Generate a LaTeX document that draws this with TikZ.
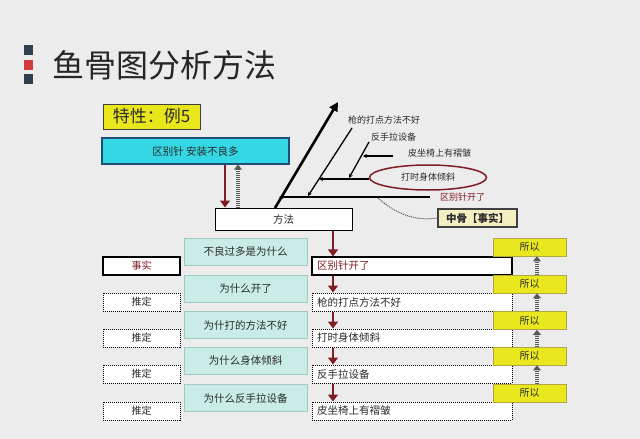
\documentclass[tikz,border=0pt]{standalone}
\usepackage{fontspec}
\setmainfont{Noto Sans CJK SC}
\usetikzlibrary{arrows.meta,shapes.geometric}
\definecolor{bgc}{HTML}{ECECEC}
\definecolor{navy}{HTML}{2F3F4F}
\definecolor{redsq}{HTML}{D43B3B}
\definecolor{featy}{HTML}{EAE61C}
\definecolor{cyanf}{HTML}{34D7E4}
\definecolor{cyanb}{HTML}{1F4E78}
\definecolor{tealf}{HTML}{C9ECE6}
\definecolor{tealb}{HTML}{A3C9C3}
\definecolor{soy}{HTML}{E9E81E}
\definecolor{sob}{HTML}{B3A542}
\definecolor{lyel}{HTML}{F3EFC2}
\definecolor{dred}{HTML}{801C24}
\definecolor{txt}{HTML}{2A2A2A}
\tikzset{
  f/.style={font=\fontsize{#1}{#1}\selectfont},
  lbl/.style={f=9, inner sep=0pt, anchor=west, text=txt},
  tealbox/.style={rectangle, fill=tealf, draw=tealb, line width=0.8pt, minimum width=123pt, minimum height=27pt, f=10.5, text=txt},
  factbox/.style={rectangle, draw=black, fill=white, line width=1.2pt, minimum width=77pt, minimum height=18pt, f=10, text=dred},
  guessbox/.style={rectangle, draw=black, densely dotted, line width=1pt, fill=white, minimum width=77pt, minimum height=18pt, f=10, text=txt},
  rfact/.style={rectangle, draw=black, fill=white, line width=1.2pt, text width=190pt, inner xsep=5pt, align=left, minimum height=18pt, f=10.5, text=dred},
  rguess/.style={rectangle, draw=black, densely dotted, line width=1pt, fill=white, text width=190pt, inner xsep=5pt, align=left, minimum height=18pt, f=10.5, text=txt},
  sobox/.style={rectangle, fill=soy, draw=sob, line width=0.8pt, minimum width=73pt, minimum height=18pt, f=10, text=txt},
  redarrow/.style={draw=dred, line width=2.6pt, -{Triangle[width=10pt,length=7pt]}},
  stripe/.style={draw=black!65, line width=4.5pt, dash pattern=on 1pt off 1pt, -{Triangle[width=8pt,length=5pt]}},
  bone/.style={draw=black, line width=1.3pt, -{Stealth[length=4pt,width=4pt]}},
}
\begin{document}
\begin{tikzpicture}[x=1pt,y=-1pt]
\useasboundingbox (0,0) rectangle (640,439);
\fill[bgc] (0,0) rectangle (640,439);
% title
\node[fill=navy, minimum width=9pt, minimum height=10pt, inner sep=0pt] (sq1) at (28.5,50) {};
\node[fill=redsq, minimum width=9pt, minimum height=10pt, inner sep=0pt] (sq2) at (28.5,65) {};
\node[fill=navy, minimum width=9pt, minimum height=10pt, inner sep=0pt] (sq3) at (28.5,79) {};
\node[f=32, anchor=west, inner sep=0pt, text=black!85] (title) at (52,65) {鱼骨图分析方法};
% top boxes
\node[rectangle, fill=featy, draw=black!75, line width=1pt, minimum width=97pt, minimum height=25pt, f=17, text=txt] (feat) at (151.5,116.5) {特性：例5};
\node[rectangle, fill=cyanf, draw=cyanb, line width=1.2pt, minimum width=187pt, minimum height=26pt, f=10.5, text=txt] (prob) at (195.5,151) {区别针 安装不良多};
\node[rectangle, fill=white, draw=black, line width=1pt, minimum width=137pt, minimum height=22pt, f=10.5, text=txt] (meth) at (283.5,219) {方法};
\coordinate (xa) at (225,0);
\coordinate (xb) at (238,0);
\draw[redarrow] (xa |- prob.south) -- (xa |- meth.north);
\draw[stripe] (xb |- meth.north) -- (xb |- prob.south);
% fishbone
\coordinate (sp0) at (275,208);
\coordinate (sp1) at (338,102);
\draw[draw=black, line width=2.6pt, -{Triangle[width=9pt,length=9pt]}] (sp0) -- (sp1);
\coordinate (b1s) at (430,197);
\coordinate (b1e) at (279,197);
\draw[bone] (b1s) -- (b1e);
\coordinate (b2s) at (352,128);
\coordinate (b2e) at (308,196);
\draw[bone] (b2s) -- (b2e);
\node[ellipse, draw=dred, line width=1.5pt, minimum width=117pt, minimum height=25pt, inner sep=0pt, f=9, text=txt] (ell) at (428,177.5) {打时身体倾斜};
\coordinate (b3e) at (319,179);
\draw[bone] (ell.west |- b3e) -- (b3e);
\coordinate (b4s) at (369,142);
\coordinate (b4e) at (349,178);
\draw[bone] (b4s) -- (b4e);
\coordinate (b5s) at (393,156);
\coordinate (b5e) at (363,156);
\draw[bone] (b5s) -- (b5e);
\node[lbl] (l2) at (348,120) {枪的打点方法不好};
\node[lbl] (l4) at (371,137) {反手拉设备};
\node[lbl] (l5) at (408,153) {皮坐椅上有褶皱};
\node[lbl, text=dred] (l1) at (440,197) {区别针开了};
\node[rectangle, fill=lyel, draw=black!75, line width=1.2pt, minimum width=79pt, minimum height=18pt, f=10.5, text=txt] (mid) at (477.5,218) {\bfseries 中骨【事实】};
\coordinate (dc) at (378,198);
\draw[black!70, densely dotted, line width=1pt] (dc) .. controls (398,216) and (418,221) .. (mid.west);
% lower part
\node[tealbox] (t1) at (245.5,251.5) {不良过多是为什么};
\node[tealbox] (t2) at (245.5,288.5) {为什么开了};
\node[tealbox] (t3) at (245.5,325) {为什打的方法不好};
\node[tealbox] (t4) at (245.5,360.5) {为什么身体倾斜};
\node[tealbox] (t5) at (245.5,398) {为什么反手拉设备};
\node[factbox] (k1) at (141.5,266) {事实};
\node[guessbox] (k2) at (141.5,302) {推定};
\node[guessbox] (k3) at (141.5,338) {推定};
\node[guessbox] (k4) at (141.5,374) {推定};
\node[guessbox] (k5) at (141.5,411) {推定};
\node[rfact] (r1) at (412,266) {区别针开了};
\node[rguess] (r2) at (412,302) {枪的打点方法不好};
\node[rguess] (r3) at (412,338) {打时身体倾斜};
\node[rguess] (r4) at (412,374) {反手拉设备};
\node[rguess] (r5) at (412,411) {皮坐椅上有褶皱};
\node[sobox] (s1) at (529.5,247) {所以};
\node[sobox] (s2) at (529.5,284) {所以};
\node[sobox] (s3) at (529.5,320.5) {所以};
\node[sobox] (s4) at (529.5,356) {所以};
\node[sobox] (s5) at (529.5,393) {所以};
\coordinate (xr) at (333,0);
\draw[redarrow] (xr |- meth.south) -- (xr |- r1.north);
\draw[redarrow] (xr |- r1.south) -- (xr |- r2.north);
\draw[redarrow] (xr |- r2.south) -- (xr |- r3.north);
\draw[redarrow] (xr |- r3.south) -- (xr |- r4.north);
\draw[redarrow] (xr |- r4.south) -- (xr |- r5.north);
\coordinate (xs) at (537,0);
\draw[stripe] (xs |- s2.north) -- (xs |- s1.south);
\draw[stripe] (xs |- s3.north) -- (xs |- s2.south);
\draw[stripe] (xs |- s4.north) -- (xs |- s3.south);
\draw[stripe] (xs |- s5.north) -- (xs |- s4.south);
\end{tikzpicture}
\end{document}
